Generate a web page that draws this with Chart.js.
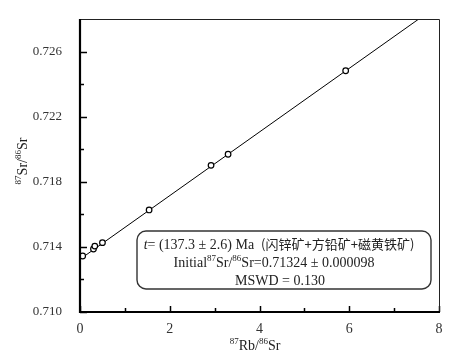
<!DOCTYPE html>
<html><head><meta charset="utf-8">
<script src="https://cdn.jsdelivr.net/npm/chart.js@4.4.0/dist/chart.umd.min.js"></script>
<style>html,body{margin:0;padding:0;background:#fff}#wrap{width:462px;height:360px}</style>
</head><body><div id="wrap"><canvas id="c" width="462" height="360"></canvas></div>
<script>
// Sample data: 87Rb/86Sr vs 87Sr/86Sr
const rbSr = [0.06, 0.30, 0.33, 0.50, 1.54, 2.92, 3.30, 5.92];
const srSr = [0.71344, 0.71387, 0.71405, 0.71426, 0.71627, 0.71901, 0.71969, 0.72482];
// Isochron fit
const intercept = [0.71324];
const slope = [0.001955];
const lineX = [0, 8];
// Axis ticks
const xTicks = [0, 2, 4, 6, 8];
const yTickLabels = ['0.710', '0.714', '0.718', '0.722', '0.726'];
const textLines = ['= (137.3 \u00b1 2.6) Ma\u00a0(闪锌矿+方铅矿+磁黄铁矿)', 'Sr=0.71324 \u00b1 0.000098', 'MSWD = 0.130'];

const fitData = lineX.map(x => ({x: x, y: intercept[0] + slope[0] * x}));
const pts = rbSr.map((x, i) => ({x: x, y: srSr[i]}));
const SERIF = '"Liberation Serif", "DejaVu Serif", serif';
const CJK = '"Noto Sans CJK SC", sans-serif';

function rich(ctx, parts, cx, y) {
  let w = 0;
  parts.forEach(p => { ctx.font = p.f; p.w = ctx.measureText(p.t).width; w += p.w; });
  let x = cx - w / 2;
  ctx.textAlign = 'left'; ctx.textBaseline = 'alphabetic';
  parts.forEach(p => { ctx.font = p.f; ctx.fillText(p.t, x, y + (p.dy || 0)); x += p.w; });
}

const deco = {
  id: 'deco',
  afterDatasetsDraw(chart) {
    const ctx = chart.ctx, a = chart.chartArea, xs = chart.scales.x, ys = chart.scales.y;
    ctx.save();
    ctx.strokeStyle = '#000';
    ctx.lineWidth = 1.5;
    for (let v = 0; v <= 8; v++) {
      const px = Math.round(xs.getPixelForValue(v)) + 0.5;
      const len = v % 2 === 0 ? 6 : 4;
      ctx.beginPath(); ctx.moveTo(px, a.bottom); ctx.lineTo(px, a.bottom - len); ctx.stroke();
    }
    for (let i = 0; i <= 8; i++) {
      const v = 0.710 + i * 0.002;
      const py = Math.round(ys.getPixelForValue(v)) + 0.5;
      const len = i % 2 === 0 ? 7 : 4;
      ctx.beginPath(); ctx.moveTo(a.left, py); ctx.lineTo(a.left + len, py); ctx.stroke();
    }
    ctx.lineWidth = 1;
    ctx.strokeStyle = '#222';
    ctx.beginPath(); ctx.moveTo(a.left, a.top + 0.5); ctx.lineTo(a.right + 0.5, a.top + 0.5); ctx.lineTo(a.right + 0.5, a.bottom); ctx.stroke();
    ctx.strokeStyle = '#000';
    ctx.lineWidth = 2.2;
    ctx.beginPath(); ctx.moveTo(a.left, a.top); ctx.lineTo(a.left, a.bottom); ctx.lineTo(a.right + 1, a.bottom); ctx.stroke();

    // annotation box
    const bx = 137, by = 231, bw = 294, bh = 58, r = 9;
    ctx.fillStyle = '#fff';
    ctx.strokeStyle = '#333';
    ctx.lineWidth = 1.4;
    ctx.beginPath(); ctx.roundRect(bx, by, bw, bh, r); ctx.fill(); ctx.stroke();

    ctx.fillStyle = '#222';
    const f = '14px ' + SERIF, fs = '9px ' + SERIF;
    rich(ctx, [
      {t: 't', f: 'italic 14px ' + SERIF},
      {t: textLines[0].split('\u00a0')[0] + '  ', f: f},
      {t: textLines[0].split('\u00a0')[1], f: '13px ' + CJK}
    ], 279, 249);
    rich(ctx, [
      {t: 'Initial', f: f}, {t: '87', f: fs, dy: -6}, {t: 'Sr/', f: f}, {t: '86', f: fs, dy: -6},
      {t: textLines[1], f: f}
    ], 274, 267);
    rich(ctx, [{t: textLines[2], f: f}], 280, 285);

    const tf = '14px ' + SERIF, ts = '9px ' + SERIF;
    rich(ctx, [{t: '87', f: ts, dy: -6}, {t: 'Rb/', f: tf}, {t: '86', f: ts, dy: -6}, {t: 'Sr', f: tf}], 255, 350);
    ctx.translate(27, 161); ctx.rotate(-Math.PI / 2);
    rich(ctx, [{t: '87', f: ts, dy: -6}, {t: 'Sr/', f: tf}, {t: '86', f: ts, dy: -6}, {t: 'Sr', f: tf}], 0, 0);
    ctx.restore();
  }
};

new Chart(document.getElementById('c'), {
  type: 'scatter',
  data: {
    datasets: [
      {type: 'line', data: fitData, borderColor: '#000', borderWidth: 1, pointRadius: 0, fill: false, clip: 0, order: 2},
      {data: pts, pointRadius: 2.8, pointBorderWidth: 1.2, pointBorderColor: '#000', pointBackgroundColor: '#fff', order: 1}
    ]
  },
  options: {
    responsive: false, animation: false,
    layout: {padding: {left: 0, top: 19, right: 23, bottom: 0}},
    plugins: {legend: {display: false}, tooltip: {enabled: false}},
    scales: {
      x: {
        type: 'linear', min: 0, max: 8,
        afterFit(s) { s.height = 48; },
        afterBuildTicks(s) { s.ticks = xTicks.map(v => ({value: v})); },
        grid: {display: false}, border: {display: false},
        ticks: {padding: 1, color: '#333', font: {family: SERIF, size: 14}, callback: v => String(v)}
      },
      y: {
        type: 'linear', min: 0.710, max: 0.728,
        afterFit(s) { s.width = 80; },
        afterBuildTicks(s) { s.ticks = yTickLabels.map(v => ({value: parseFloat(v)})); },
        grid: {display: false}, border: {display: false},
        ticks: {padding: 10, color: '#333', font: {family: SERIF, size: 13},
          callback: (v, i) => yTickLabels[i]}
      }
    }
  },
  plugins: [deco]
});
</script></body></html>
